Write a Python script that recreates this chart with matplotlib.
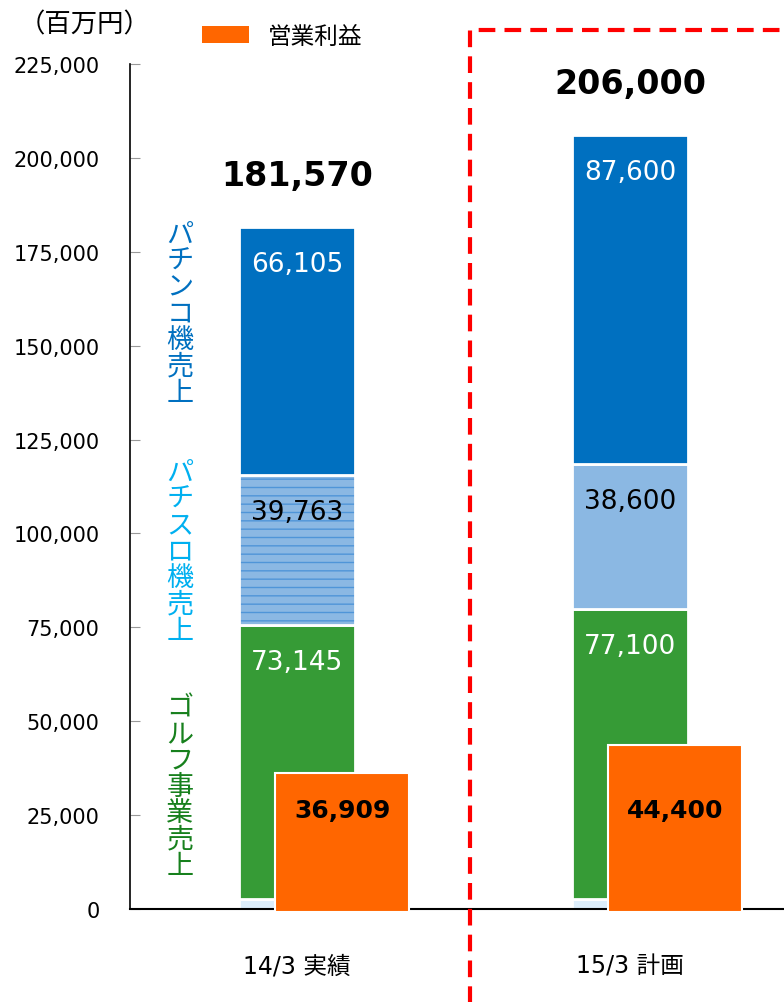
import matplotlib
matplotlib.use("Agg")
import matplotlib.pyplot as plt
from matplotlib.patches import Patch
from matplotlib.lines import Line2D

plt.rcParams['font.family'] = ['DejaVu Sans', 'Noto Sans CJK JP']

# data (百万円)
categories = ['14/3 実績', '15/3 計画']
other = [2557, 2700]
golf = [73145, 77100]
pachislot = [39763, 38600]
pachinko = [66105, 87600]
totals = [181570, 206000]
op_profit = [36909, 44400]
yticks = [0, 25000, 50000, 75000, 100000, 125000, 150000, 175000, 200000, 225000]

W, H = 784, 1003
def fx(px):
    return px / W
def fy(py):
    return 1 - py / H

fig = plt.figure(figsize=(7.84, 10.03), dpi=100)
ax = fig.add_axes([fx(130), fy(910), fx(784) - fx(130), fy(65) - fy(910)])

x = [0, 1]
bw = 0.35
C_BLUE = '#0070C0'
C_SLOT = '#8BB8E3'
C_GREEN = '#369B36'
C_ORANGE = '#FF6600'
C_OTHER = '#DDEEFB'

b1 = [o for o in other]
b2 = [o + g for o, g in zip(other, golf)]
b3 = [a + p for a, p in zip(b2, pachislot)]

ax.bar(x, other, bw, color=C_OTHER, edgecolor='white', linewidth=2, zorder=2)
ax.bar(x, golf, bw, bottom=b1, color=C_GREEN, edgecolor='white', linewidth=2, zorder=2)
# pachislot: first bar hatched with horizontal lines
ax.bar(x[0], pachislot[0], bw, bottom=b2[0], color=C_SLOT, edgecolor='#4F95D8',
       hatch='--', linewidth=0, zorder=2)
ax.bar(x[1], pachislot[1], bw, bottom=b2[1], color=C_SLOT, linewidth=0, zorder=2)
ax.bar(x, pachislot, bw, bottom=b2, fill=False, edgecolor='white', linewidth=2, zorder=2)
ax.bar(x, pachinko, bw, bottom=b3, color=C_BLUE, edgecolor='white', linewidth=2, zorder=2)

# operating profit, offset bars in front
off = 0.135
ax.bar([v + off for v in x], op_profit, 0.40, bottom=-800, color=C_ORANGE,
       edgecolor='white', linewidth=1.5, zorder=4, clip_on=False)

# segment labels
for i in x:
    ax.text(i, b3[i] + pachinko[i] - 9800, f'{pachinko[i]:,}', ha='center', va='center',
            color='white', fontsize=19, zorder=5)
    ax.text(i, b2[i] + pachislot[i] - 9800, f'{pachislot[i]:,}', ha='center', va='center',
            color='black', fontsize=19, zorder=5)
    ax.text(i, b2[i] - 9800, f'{golf[i]:,}', ha='center', va='center',
            color='white', fontsize=19, zorder=5)
    ax.text(i, totals[i] + 13800, f'{totals[i]:,}', ha='center', va='center',
            color='black', fontsize=24, fontweight='bold', zorder=5)
    ax.text(i + off, 26400, f'{op_profit[i]:,}', ha='center', va='center',
            color='black', fontsize=18, fontweight='bold', zorder=5)

ax.set_xlim(-0.502, 1.4625)
ax.set_ylim(0, 225000)
ax.set_yticks(yticks)
ax.set_yticklabels([f'{v:,}' for v in yticks], fontsize=15)
ax.tick_params(axis='y', direction='in', length=7, color='#999999', pad=22)
ax.set_xticks(x)
ax.set_xticklabels(categories, fontsize=17)
ax.tick_params(axis='x', length=0, pad=32)
for s in ['top', 'right']:
    ax.spines[s].set_visible(False)
ax.spines['left'].set_linewidth(1.2)
ax.spines['bottom'].set_linewidth(1.5)
ax.spines['bottom'].set_zorder(3)

# unit label and legend
fig.text(fx(85), fy(25), '（百万円）', ha='center', va='center', fontsize=19,
         family='Noto Sans CJK JP')
fig.legend(handles=[Patch(facecolor=C_ORANGE, edgecolor='none')], labels=['営業利益'],
           loc='center left', bbox_to_anchor=(fx(181), fy(37)), frameon=False,
           handlelength=2.0, handleheight=0.7, handletextpad=0.8,
           prop={'family': 'Noto Sans CJK JP', 'size': 17})

# vertical segment captions
captions = [('パチンコ機売上', '#0070C0', 235),
            ('パチスロ機売上', '#00B0F0', 473),
            ('ゴルフ事業売上', '#17801D', 708)]
for txt, col, y0 in captions:
    for k, ch in enumerate(txt):
        fig.text(fx(180), fy(y0 + k * 26.4), ch, ha='center', va='center', color=col,
                 fontsize=19.5, family='Noto Sans CJK JP')

# red dashed frame around the plan
fig.add_artist(Line2D([fx(470), fx(470), fx(800)], [fy(1010), fy(31), fy(31)],
                      color='#FF0000', linewidth=3, linestyle=(0, (4, 2.2)),
                      transform=fig.transFigure))

fig.savefig('out.png', dpi=100)
